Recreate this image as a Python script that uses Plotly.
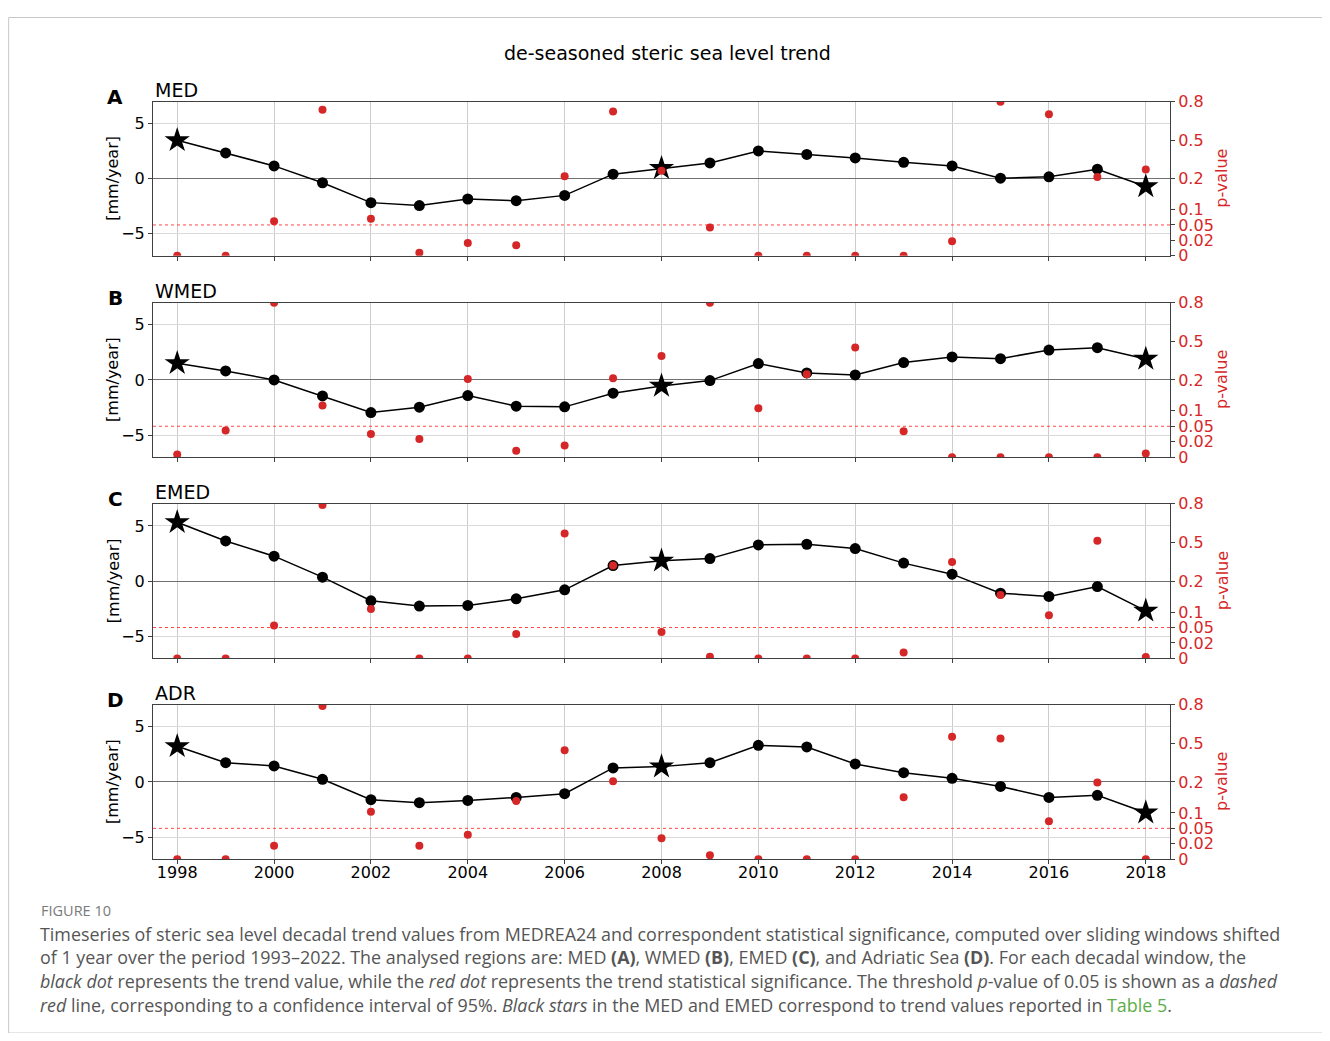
import numpy as np
import plotly.graph_objects as go

# figure is placed by the page at (8, 8); keep it inside the 1330x1041 window
OFF = 8
W, H = 1330 - 2 * OFF, 1041 - 2 * OFF
# measured vertical placement of the page in the photographed window
Y0, KY = 16.8, 0.9822

YEARS = list(range(1998, 2019))
STAR_YEARS = [1998, 2008, 2018]
REGIONS = ["MED", "WMED", "EMED", "ADR"]
LETTERS = ["A", "B", "C", "D"]

# decadal trend values [mm/year]
TREND_MED = [3.5, 2.35, 1.17, -0.36, -2.17, -2.44, -1.84, -1.99, -1.51, 0.42, 0.96,
             1.44, 2.53, 2.22, 1.9, 1.5, 1.17, 0.05, 0.18, 0.87, -0.7]
TREND_WMED = [1.51, 0.81, 0.0, -1.45, -2.96, -2.47, -1.42, -2.38, -2.44, -1.2, -0.54,
              -0.06, 1.48, 0.63, 0.45, 1.57, 2.08, 1.93, 2.71, 2.92, 1.9]
TREND_EMED = [5.33, 3.64, 2.26, 0.36, -1.78, -2.26, -2.2, -1.6, -0.79, 1.41, 1.84,
              2.04, 3.28, 3.34, 2.95, 1.63, 0.63, -1.09, -1.39, -0.49, -2.69]
TREND_ADR = [3.23, 1.75, 1.45, 0.24, -1.6, -1.88, -1.67, -1.4, -1.06, 1.27, 1.39,
             1.75, 3.32, 3.17, 1.63, 0.84, 0.33, -0.4, -1.4, -1.21, -2.78]

# p-values
P_MED = [0.0, 0.0, 0.062, 0.738, 0.070, 0.004, 0.0165, 0.0135, 0.219, 0.725, 0.262,
         0.045, 0.0, 0.0, 0.0, 0.0, 0.0187, 0.8, 0.704, 0.213, 0.273]
P_WMED = [0.0034, 0.0416, 0.8, 0.117, 0.035, 0.0254, 0.207, 0.0082, 0.015, 0.213, 0.386,
          0.8, 0.1085, 0.244, 0.451, 0.0404, 0.0, 0.0, 0.0, 0.0, 0.0047]
P_EMED = [0.0, 0.0, 0.0565, 0.79, 0.1095, 0.0, 0.0, 0.0374, 0.57, 0.321, 0.0413,
          0.002, 0.0, 0.0, 0.0, 0.0078, 0.348, 0.155, 0.09, 0.513, 0.0018]
P_ADR = [0.0, 0.0, 0.0174, 0.79, 0.104, 0.0174, 0.0374, 0.1385, 0.446, 0.205, 0.0308,
         0.0052, 0.0, 0.0, 0.0, 0.1505, 0.552, 0.538, 0.073, 0.198, 0.0]

TRENDS = [TREND_MED, TREND_WMED, TREND_EMED, TREND_ADR]
PVALS = [P_MED, P_WMED, P_EMED, P_ADR]

P_TICKS = [0, 0.02, 0.05, 0.1, 0.2, 0.5, 0.8]
P_TICKTEXT = ["0", "0.02", "0.05", "0.1", "0.2", "0.5", "0.8"]
P_POS = [0, 0.1, 0.2, 0.3, 0.5, 0.75, 1.0]
P_THRESHOLD = 0.05

X_TICKS = list(range(1998, 2019, 2))


def pscale(p):
    return np.interp(np.asarray(p, dtype=float), P_TICKS, P_POS)


def px(x):
    return (x - OFF) / W


def py(y):
    return 1 - ((y - Y0) / KY) / H


# panel pixel boxes (top, bottom) in window pixels
PANEL_TB = [(101.7, 255.7), (302.7, 457.3), (504.0, 658.7), (705.0, 859.7)]
X_LEFT, X_RIGHT = 153, 1170

RED = "#d62728"
GRID = "#cccccc"
AX = "#404040"
TICKFONT = dict(family="DejaVu Sans", size=16, color="black")

fig = go.Figure()
layout = dict(
    width=W, height=H, margin=dict(l=0, r=0, t=0, b=0),
    paper_bgcolor="white", plot_bgcolor="rgba(0,0,0,0)",
    showlegend=False, font=dict(family="DejaVu Sans", size=16, color="black"),
)
annotations = []
shapes = []

for i in range(4):
    xn = f"x{i + 1}" if i else "x"
    yl = f"y{2 * i + 1}" if i else "y"
    yr = f"y{2 * i + 2}"
    xa = f"xaxis{i + 1}" if i else "xaxis"
    yla = f"yaxis{2 * i + 1}" if i else "yaxis"
    yra = f"yaxis{2 * i + 2}"
    top, bot = PANEL_TB[i]
    dom_y = [py(bot), py(top)]

    layout[xa] = dict(
        domain=[px(X_LEFT), px(X_RIGHT)], anchor=yl, range=[1997.5, 2018.5],
        tickvals=X_TICKS, ticktext=[str(t) for t in X_TICKS] if i == 3 else [""] * len(X_TICKS),
        showgrid=True, gridcolor=GRID, gridwidth=1, zeroline=False,
        showline=True, mirror=True, linecolor=AX, linewidth=1,
        ticks="outside", ticklen=4, tickcolor=AX, tickfont=TICKFONT,
        ticklabelstandoff=-5,
    )
    layout[yla] = dict(
        domain=dom_y, anchor=xn, range=[-7, 7],
        tickvals=[-5, 0, 5], ticktext=["\u22125", "0", "5"],
        showgrid=True, gridcolor="#d9d9d9", gridwidth=1.2,
        zeroline=True, zerolinecolor="#707070", zerolinewidth=1.2,
        showline=True, linecolor=AX, linewidth=1,
        ticks="outside", ticklen=4, tickcolor=AX, tickfont=TICKFONT,
    )
    layout[yra] = dict(
        overlaying=yl, anchor=xn, side="right", range=[0, 1],
        tickvals=P_POS, ticktext=P_TICKTEXT, showgrid=False, zeroline=False,
        showline=True, linecolor=AX, linewidth=1,
        ticks="outside", ticklen=4, tickcolor=AX,
        tickfont=dict(family="DejaVu Sans", size=16, color=RED),
    )

    trend = TRENDS[i]
    star_x = [y for y in YEARS if y in STAR_YEARS]
    star_y = [v for y, v in zip(YEARS, trend) if y in STAR_YEARS]
    dot_x = [y for y in YEARS if y not in STAR_YEARS]
    dot_y = [v for y, v in zip(YEARS, trend) if y not in STAR_YEARS]

    fig.add_trace(go.Scatter(x=YEARS, y=trend, mode="lines", xaxis=xn, yaxis=yl,
                             line=dict(color="black", width=1.5), hoverinfo="skip"))
    fig.add_trace(go.Scatter(x=dot_x, y=dot_y, mode="markers", xaxis=xn, yaxis=yl,
                             marker=dict(symbol="circle", size=11, color="black")))
    fig.add_trace(go.Scatter(x=star_x, y=star_y, mode="markers", xaxis=xn, yaxis=yl,
                             marker=dict(symbol="star", size=19, color="black")))
    fig.add_trace(go.Scatter(x=YEARS, y=pscale(PVALS[i]), mode="markers", xaxis=xn, yaxis=yr,
                             marker=dict(symbol="circle", size=8, color=RED),
                             cliponaxis=True))

    shapes.append(dict(type="line", xref=f"{xn} domain", yref=yr, x0=0, x1=1,
                       y0=float(pscale(P_THRESHOLD)), y1=float(pscale(P_THRESHOLD)),
                       line=dict(color="rgba(255,40,40,0.85)", width=1, dash="dot"), layer="above"))

    annotations.append(dict(text=REGIONS[i], x=px(X_LEFT), y=py(top - 12), xref="paper", yref="paper",
                            xanchor="left", yanchor="middle", showarrow=False,
                            font=dict(family="DejaVu Sans", size=19, color="black")))
    annotations.append(dict(text="<b>" + LETTERS[i] + "</b>", x=px(115), y=py(top - 5), xref="paper",
                            yref="paper", xanchor="center", yanchor="middle", showarrow=False,
                            font=dict(family="DejaVu Sans", size=20, color="black")))
    mid = (top + bot) / 2
    annotations.append(dict(text="[mm/year]", x=px(113), y=py(mid), xref="paper", yref="paper",
                            xanchor="center", yanchor="middle", textangle=-90, showarrow=False,
                            font=dict(family="DejaVu Sans", size=16, color="black")))
    annotations.append(dict(text="p-value", x=px(1222), y=py(mid), xref="paper", yref="paper",
                            xanchor="center", yanchor="middle", textangle=-90, showarrow=False,
                            font=dict(family="DejaVu Sans", size=16, color=RED)))

annotations.append(dict(text="de-seasoned steric sea level trend", x=px(667), y=py(53),
                        xref="paper", yref="paper", xanchor="center", yanchor="middle",
                        showarrow=False, font=dict(family="DejaVu Sans", size=19, color="black")))

CAP_FONT = "Open Sans"
annotations.append(dict(text="FIGURE 10", x=px(39), y=py(911), xref="paper", yref="paper",
                        xanchor="left", yanchor="middle", showarrow=False,
                        font=dict(family=CAP_FONT, size=14.5, color="#7a7a7a")))
CAPTION_LINES = [
    "Timeseries of steric sea level decadal trend values from MEDREA24 and correspondent statistical significance, computed over sliding windows shifted",
    "of 1 year over the period 1993\u20132022. The analysed regions are: MED <b>(A)</b>, WMED <b>(B)</b>, EMED <b>(C)</b>, and Adriatic Sea <b>(D)</b>. For each decadal window, the",
    "<i>black dot</i> represents the trend value, while the <i>red dot</i> represents the trend statistical significance. The threshold <i>p</i>-value of 0.05 is shown as a <i>dashed</i>",
    "<i>red</i> line, corresponding to a confidence interval of 95%. <i>Black stars</i> in the MED and EMED correspond to trend values reported in <span style='color:#5cad4a'>Table 5</span>.",
]
for k, line in enumerate(CAPTION_LINES):
    annotations.append(dict(text=line, x=px(38), y=py(934 + 24 * k), xref="paper", yref="paper",
                            xanchor="left", yanchor="middle", showarrow=False,
                            font=dict(family=CAP_FONT, size=17.9, color="#555555")))

shapes.append(dict(type="rect", xref="paper", yref="paper", x0=0.0005, x1=1.01, y0=-0.01, y1=0.9995,
                   line=dict(color="#c8c8c8", width=1), fillcolor="rgba(0,0,0,0)", layer="below"))

layout["annotations"] = annotations
layout["shapes"] = shapes
fig.update_layout(**layout)
fig.write_html("out.html")
